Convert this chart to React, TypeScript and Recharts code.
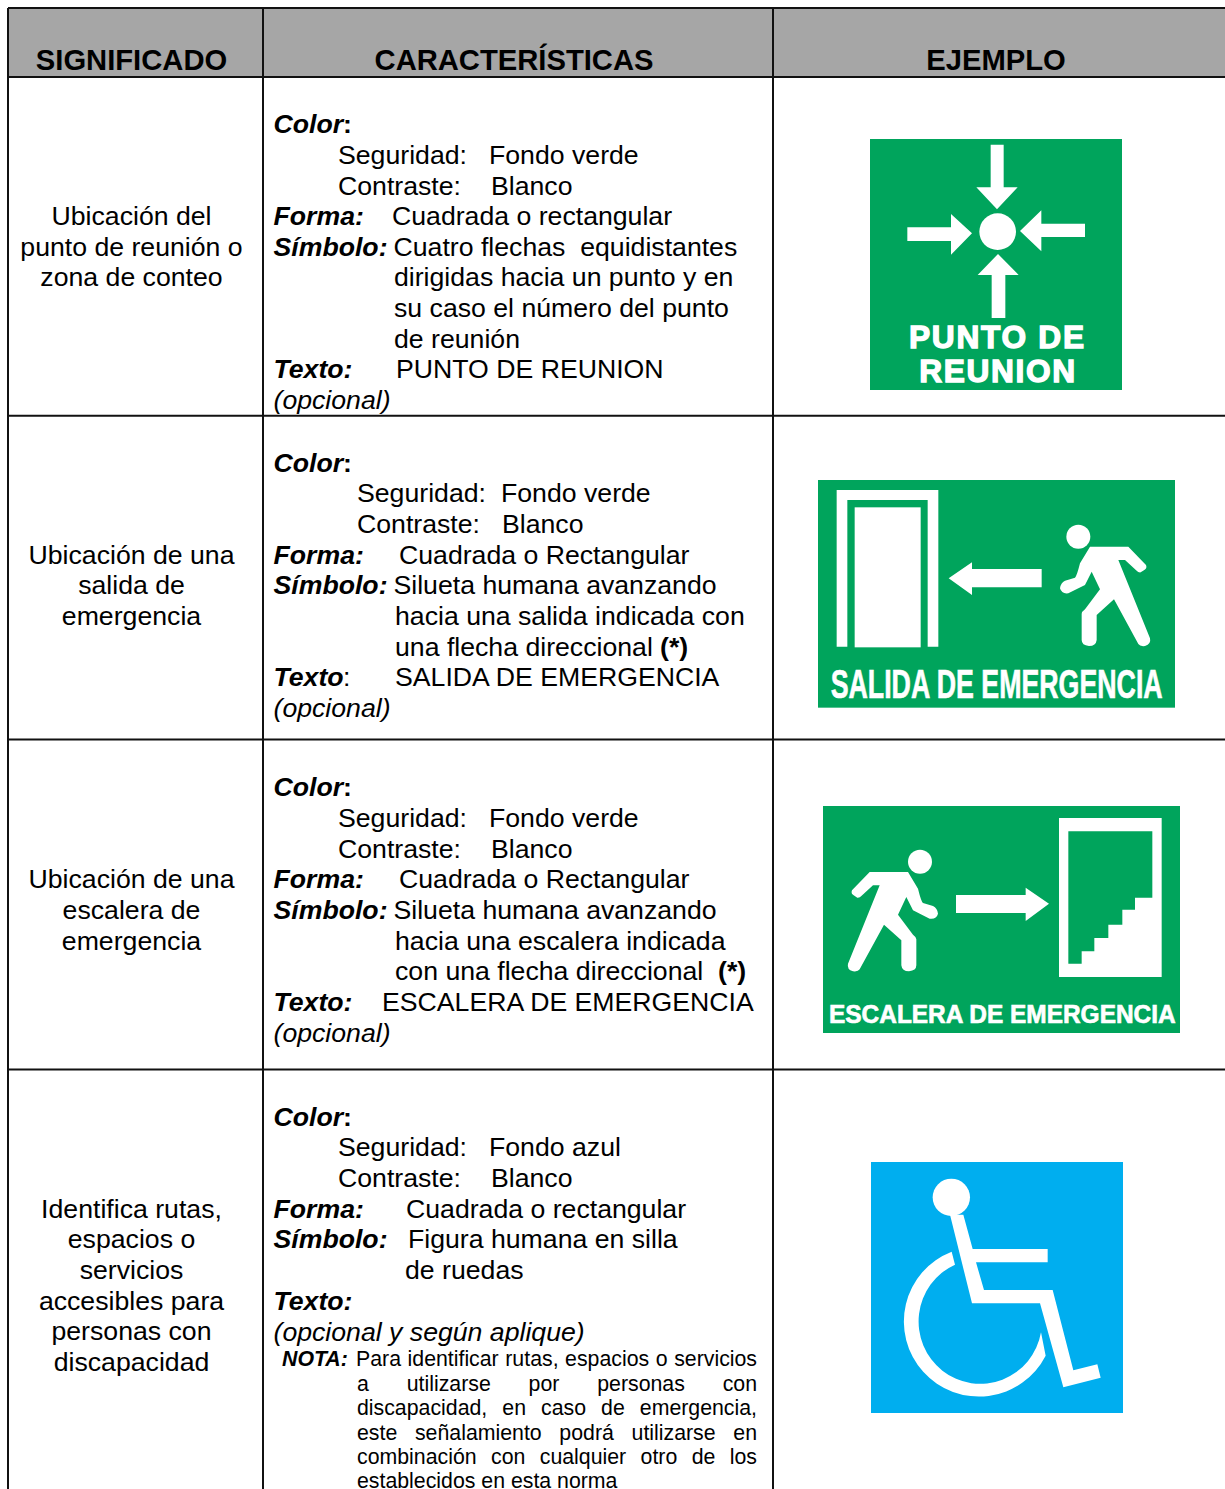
import React from "react";
import { ComposedChart, XAxis, YAxis, Scatter, ReferenceArea, ReferenceLine } from "recharts";

const W = 1225;
const H = 1489;
const FONT = '"Liberation Sans", Arial, sans-serif';

// ---- text content ----
const headers = ["SIGNIFICADO", "CARACTERÍSTICAS", "EJEMPLO"];
const meaning1 = ["Ubicación del", "punto de reunión o", "zona de conteo"];
const meaning2 = ["Ubicación de una", "salida de", "emergencia"];
const meaning3 = ["Ubicación de una", "escalera de", "emergencia"];
const meaning4 = ["Identifica rutas,", "espacios o", "servicios", "accesibles para", "personas con", "discapacidad"];

const features1 = ["Color", ":", "Seguridad:", "Fondo verde", "Contraste:", "Blanco", "Forma:", "Cuadrada o rectangular", "Símbolo:", "Cuatro flechas  equidistantes", "dirigidas hacia un punto y en", "su caso el número del punto", "de reunión", "Texto:", "PUNTO DE REUNION", "(opcional)"];
const features2 = ["Color", ":", "Seguridad:", "Fondo verde", "Contraste:", "Blanco", "Forma:", "Cuadrada o Rectangular", "Símbolo:", "Silueta humana avanzando", "hacia una salida indicada con", "una flecha direccional", "(*)", "Texto", ":", "SALIDA DE EMERGENCIA", "(opcional)"];
const features3 = ["Color", ":", "Seguridad:", "Fondo verde", "Contraste:", "Blanco", "Forma:", "Cuadrada o Rectangular", "Símbolo:", "Silueta humana avanzando", "hacia una escalera indicada", "con una flecha direccional", "(*)", "Texto:", "ESCALERA DE EMERGENCIA", "(opcional)"];
const features4 = ["Color", ":", "Seguridad:", "Fondo azul", "Contraste:", "Blanco", "Forma:", "Cuadrada o rectangular", "Símbolo:", "Figura humana en silla", "de ruedas", "Texto:", "(opcional y según aplique)"];
const noteLines = ["NOTA:", "Para identificar rutas, espacios o servicios", "a utilizarse por personas con", "discapacidad, en caso de emergencia,", "este señalamiento podrá utilizarse en", "combinación con cualquier otro de los", "establecidos en esta norma"];

// ---- layout, kept apart from the text: [x, line, style] ----
type Place = [number, number, string];
const L = 273.5;
const layout1: Place[] = [[L,0,"bi"],[343,0,"b"],[338,1,"r"],[489,1,"r"],[338,2,"r"],[491,2,"r"],[L,3,"bi"],[392,3,"r"],[L,4,"bi"],[393.5,4,"r"],[394,5,"r"],[394,6,"r"],[394,7,"r"],[L,8,"bi"],[396,8,"r"],[L,9,"i"]];
const layout2: Place[] = [[L,0,"bi"],[343,0,"b"],[357,1,"r"],[501,1,"r"],[357,2,"r"],[502,2,"r"],[L,3,"bi"],[399,3,"r"],[L,4,"bi"],[393.5,4,"r"],[395,5,"r"],[395,6,"r"],[660,6,"b"],[L,7,"bi"],[343,7,"r"],[395,7,"r"],[L,8,"i"]];
const layout3: Place[] = [[L,0,"bi"],[343,0,"b"],[338,1,"r"],[489,1,"r"],[338,2,"r"],[491,2,"r"],[L,3,"bi"],[399,3,"r"],[L,4,"bi"],[393.5,4,"r"],[395,5,"r"],[395,6,"r"],[718,6,"b"],[L,7,"bi"],[382,7,"r"],[L,8,"i"]];
const layout4: Place[] = [[L,0,"bi"],[343,0,"b"],[338,1,"r"],[489,1,"r"],[338,2,"r"],[491,2,"r"],[L,3,"bi"],[406,3,"r"],[L,4,"bi"],[408,4,"r"],[405,5,"r"],[L,6,"bi"],[L,7,"i"]];
const rowBaselines = [
  [133, 164, 195, 225, 256, 286, 317, 348, 378, 409],
  [472, 502, 533, 564, 594, 625, 656, 686, 717],
  [796, 827, 858, 888, 919, 950, 980, 1011, 1042],
  [1126, 1156, 1187, 1218, 1248, 1279, 1310, 1341],
];
const meaningBaselines = [
  [225, 256, 286],
  [564, 594, 625],
  [888, 919, 950],
  [1218, 1248, 1279, 1310, 1340, 1371],
];
const noteX = [282, 356, 357, 357, 357, 357, 357];
const noteY = [1366, 1366, 1391, 1415, 1440, 1464, 1488];
const noteRight = [0, 757, 757, 757, 757, 757, 0];
const rowLines = [415.7, 739.6, 1069.5];
const colLines = [8, 263, 773];
const colCentres = [131.5, 514, 996];

const BODY = 26.67;

type Item = { x: number; y: number; t: string; k: string; size: number; anchor?: string; right?: number };
const items: Item[] = [];
headers.forEach((t, i) => items.push({ x: colCentres[i], y: 70, t, k: "b", size: 29.2, anchor: "middle" }));
[meaning1, meaning2, meaning3, meaning4].forEach((lines, r) =>
  lines.forEach((t, i) => items.push({ x: 131.5, y: meaningBaselines[r][i], t, k: "r", size: BODY, anchor: "middle" }))
);
[features1, features2, features3, features4].forEach((lines, r) => {
  const lay = [layout1, layout2, layout3, layout4][r];
  lines.forEach((t, i) => items.push({ x: lay[i][0], y: rowBaselines[r][lay[i][1]], t, k: lay[i][2], size: BODY }));
});
noteLines.forEach((t, i) => items.push({ x: noteX[i], y: noteY[i], t, k: i === 0 ? "bi" : "r", size: 21.3, right: noteRight[i] }));

const measure = (t: string, size: number) => {
  const c = document.createElement("canvas").getContext("2d");
  if (!c) return 0;
  c.font = `${size}px "Liberation Sans"`;
  return c.measureText(t).width;
};

const TextMark = (p: any) => {
  const d: Item = p.payload;
  const spaces = d.t.split(" ").length - 1;
  const ws = d.right && spaces ? (d.right - d.x - measure(d.t, d.size)) / spaces : 0;
  return (
    <text
      x={p.cx}
      y={p.cy}
      fontFamily={FONT}
      fontSize={d.size}
      fontWeight={d.k.includes("b") ? 700 : 400}
      fontStyle={d.k.includes("i") ? "italic" : "normal"}
      textAnchor={d.anchor || "start"}
      fill="#000"
      style={{ whiteSpace: "pre", wordSpacing: ws }}
    >
      {d.t}
    </text>
  );
};

// ---- signs ----
const GREEN = "#00a45c";
const BLUE = "#00aeef";
const signLabels = ["PUNTO DE", "REUNION", "SALIDA DE EMERGENCIA", "ESCALERA DE EMERGENCIA"];
const signs = [
  { x: 870, y: 139, kind: 0 },
  { x: 818, y: 480, kind: 1 },
  { x: 823, y: 806, kind: 2 },
  { x: 871, y: 1162, kind: 3 },
];
const signBox = [
  [30, 27, 756, 753],
  [24, 30, 1071, 683],
  [24, 32, 1071, 681],
  [33, 37, 756, 753],
];

const PERSON = "M840 230 H955 L1008 285 Q1012 295 1003 300 L992 307 Q985 308 980 302 L945 270 H925 L1020 505 Q1024 522 1005 528 Q990 530 985 522 L912 388 L860 435 V510 Q858 528 837 528 Q815 526 815 510 V432 Q815 425 825 418 L870 358 L845 305 L825 345 L775 370 Q755 373 750 355 Q752 338 765 332 L795 323 Q800 320 810 280 Z";

const label = (t: string, x: number, y: number, size: number, len: number, sw: number, adjust: string) => (
  <text x={x} y={y} fontFamily={FONT} fontWeight={700} fontSize={size} fill="#fff" stroke="#fff" strokeWidth={sw} textLength={len} lengthAdjust={adjust}>{t}</text>
);

const SignMark = (p: any) => {
  const k = p.payload.kind;
  const b = signBox[k];
  return (
    <g transform={`translate(${p.cx},${p.cy}) scale(${1 / 3}) translate(${-b[0]},${-b[1]})`}>
      <rect x={b[0]} y={b[1]} width={b[2]} height={b[3]} fill={k === 3 ? BLUE : GREEN} />
      {k === 0 && (
        <g fill="#fff">
          <path d="M392 44 H431 V172 H473 L411 238 L349 172 H392 Z" />
          <path d="M142 292 H273 V252 L336 310 L273 374 V333 H142 Z" />
          <path d="M675 281 V321 H544 V364 L480 303 L544 241 V281 Z" />
          <path d="M395 564 V435 H353 L414 372 L476 435 H436 V564 Z" />
          <circle cx={413} cy={305} r={55} />
          {label(signLabels[0], 147, 655, 95, 525, 4, "spacing")}
          {label(signLabels[1], 178, 755, 95, 467, 4, "spacing")}
        </g>
      )}
      {k === 1 && (
        <g fill="#fff">
          <path d="M80 530 V60 H385 V530 H353 V90 H112 V530 Z" />
          <rect x={134} y={112} width={198} height={420} />
          <path d="M416 325 L486 277 V297 H695 V352 H486 V375 Z" />
          <circle cx={805} cy={200} r={36} />
          <path d={PERSON} />
          {label(signLabels[2], 62, 684, 124, 996, 2, "spacingAndGlyphs")}
        </g>
      )}
      {k === 2 && (
        <g fill="#fff">
          <rect x={732} y={68} width={308} height={477} />
          <path fill={GREEN} d="M760 108 H1012 V307 H960 V343 H922 V388 H880 V428 H838 V468 H800 V505 H760 Z" />
          <path d="M423 299 H632 V277 L702 325 L632 377 V353 H423 Z" />
          <circle cx={315} cy={199} r={36} />
          <path d={PERSON} transform="translate(1119,0) scale(-1,1)" />
          {label(signLabels[3], 42, 683, 77, 1040, 2, "spacingAndGlyphs")}
        </g>
      )}
      {k === 3 && (
        <g fill="#fff">
          <circle cx={274} cy={143} r={56} />
          <path d="M270 195 L310 195 L338 298 H563 V338 H348 L372 421 H578 L640 662 L712 644 L722 684 L610 713 L540 461 H336 Z" />
          <path d="M275 306 A225 225 0 1 0 557 618 L543 548 A185 187 0 1 1 285 345 Z" />
        </g>
      )}
    </g>
  );
};

export default function App() {
  return (
    <div style={{ position: "absolute", left: 0, top: 0, width: W, height: H, background: "#fff", overflow: "hidden" }}>
      <ComposedChart width={W} height={H} margin={{ top: 0, right: 0, bottom: 0, left: 0 }}>
        <XAxis type="number" dataKey="x" domain={[0, W]} hide />
        <YAxis type="number" dataKey="y" domain={[0, H]} reversed hide />
        <ReferenceArea x1={8} x2={W} y1={8} y2={77} fill="#a6a6a6" fillOpacity={1} stroke="none" />
        <ReferenceLine segment={[{ x: 8, y: 8 }, { x: W, y: 8 }]} stroke="#111" strokeWidth={2} />
        <ReferenceLine segment={[{ x: 8, y: 77 }, { x: W, y: 77 }]} stroke="#111" strokeWidth={2} />
        {rowLines.map((y) => (
          <ReferenceLine key={y} segment={[{ x: 8, y }, { x: W, y }]} stroke="#111" strokeWidth={2} />
        ))}
        {colLines.map((x) => (
          <ReferenceLine key={x} segment={[{ x, y: 8 }, { x, y: H }]} stroke="#111" strokeWidth={2} />
        ))}
        <Scatter data={signs} shape={SignMark} isAnimationActive={false} />
        <Scatter data={items} shape={TextMark} isAnimationActive={false} />
      </ComposedChart>
    </div>
  );
}
